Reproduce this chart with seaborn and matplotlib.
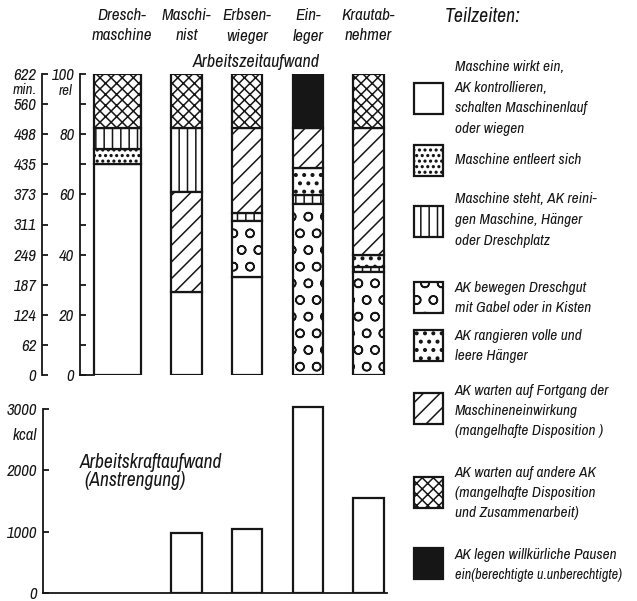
import numpy as np
import pandas as pd
import matplotlib
matplotlib.use("Agg")
import matplotlib.pyplot as plt
import matplotlib.hatch as mhatch
from matplotlib.patches import Rectangle
from matplotlib import font_manager as fm
import seaborn as sns

# ---------------- data ----------------
jobs = ["Dreschmaschine", "Maschinist", "Erbsenwieger", "Einleger", "Krautabnehmer"]
job_labels = [["Dresch-", "maschine"], ["Maschi-", "nist"], ["Erbsen-", "wieger"],
              ["Ein-", "leger"], ["Krautab-", "nehmer"]]

# Teilzeiten in % (rel) per job
t_wirkt    = [70.0, 27.5, 32.5, 0.0, 0.0]
t_entleert = [5.0, 0.0, 0.0, 0.0, 0.0]
t_steht    = [7.0, 21.3, 2.4, 3.1, 1.5]
t_bewegen  = [0.0, 0.0, 18.8, 56.7, 34.3]
t_rangier  = [0.0, 0.0, 0.0, 9.1, 4.1]
t_fortgang = [0.0, 33.2, 28.3, 13.1, 42.1]
t_andere   = [18.0, 18.0, 18.0, 0.0, 18.0]
t_pausen   = [0.0, 0.0, 0.0, 18.0, 0.0]

# stacking order (bottom -> top) per job
stack_order = [
    ["wirkt", "entleert", "steht", "andere"],
    ["wirkt", "fortgang", "steht", "andere"],
    ["wirkt", "bewegen", "steht", "fortgang", "andere"],
    ["bewegen", "steht", "rangier", "fortgang", "pausen"],
    ["bewegen", "steht", "rangier", "fortgang", "andere"],
]

# Arbeitskraftaufwand (kcal)
kcal = [0, 980, 1050, 3030, 1550]

rel_ticks = [0, 10, 20, 30, 40, 50, 60, 70, 80, 90, 100]
rel_labels = ["0", "", "20", "", "40", "", "60", "", "80", "", "100"]
min_labels = ["0", "62", "124", "187", "249", "311", "373", "435", "498", "560", "622"]
kcal_ticks = [0, 1000, 2000, 3000]
kcal_labels = ["0", "1000", "2000", "3000"]

legend_keys = ["wirkt", "entleert", "steht", "bewegen", "rangier", "fortgang", "andere", "pausen"]
legend_texts = [
    ["Maschine wirkt ein,", "AK kontrollieren,", "schalten Maschinenlauf", "oder wiegen"],
    ["Maschine entleert sich"],
    ["Maschine steht, AK reini-", "gen Maschine, Hänger", "oder Dreschplatz"],
    ["AK bewegen Dreschgut", "mit Gabel oder in Kisten"],
    ["AK rangieren volle und", "leere Hänger"],
    ["AK warten auf Fortgang der", "Maschineneinwirkung", "(mangelhafte Disposition )"],
    ["AK warten auf andere AK", "(mangelhafte Disposition", "und Zusammenarbeit)"],
    ["AK legen willkürliche Pausen", "ein(berechtigte u.unberechtigte)"],
]

# ---------------- style ----------------
ink = "#161616"
styles = {
    "wirkt":    dict(color="white", hatch=""),
    "entleert": dict(color="white", hatch="..."),
    "steht":    dict(color="white", hatch="||"),
    "bewegen":  dict(color="white", hatch="O"),
    "rangier":  dict(color="white", hatch=".."),
    "fortgang": dict(color="white", hatch="//"),
    "andere":   dict(color="white", hatch="xxx"),
    "pausen":   dict(color=ink, hatch=""),
}
mhatch.LargeCircles.size = 0.25
mhatch.SmallFilledCircles.size = 0.15

W, H = 637, 601
sns.set_theme(style="white")

names = {f.name for f in fm.fontManager.ttflist}
if "Archivo Narrow" in names:
    fam, stretch = "Archivo Narrow", "normal"
else:
    fam, stretch = "DejaVu Sans", "condensed"
plt.rcParams["font.family"] = [fam, "DejaVu Sans"]
plt.rcParams["font.style"] = "italic"
plt.rcParams["font.weight"] = "medium"
plt.rcParams["font.stretch"] = stretch
plt.rcParams["hatch.linewidth"] = 1.1
plt.rcParams["hatch.color"] = ink
plt.rcParams["text.color"] = ink

fig = plt.figure(figsize=(W / 100, H / 100), dpi=100)
fig.patch.set_facecolor("white")
renderer = fig.canvas.get_renderer()


def fit(text, target_px):
    t = fig.text(0, 0, text, fontsize=10)
    w = t.get_window_extent(renderer).width
    t.remove()
    return 10 * target_px / w


fs_tick = fit("622", 20) * 1.15
fs_head = fit("maschine", 53) * 1.15
fs_leg = fit("AK legen willkürliche Pausen", 160) * 1.02
fs_t1 = fit("Arbeitszeitaufwand", 118) * 1.08
fs_t2 = fit("Arbeitskraftaufwand", 132) * 1.08
fs_tz = fit("Teilzeiten:", 70) * 1.08


def fx(x):
    return x / W


def fy(y):
    return 1 - y / H


c0, sp = 126.0, 60.6


def dx(px):
    return (px - c0) / sp


extra = 0.28  # first bar (machine) is drawn wider

# ---------------- top chart ----------------
ax = fig.add_axes([fx(80), fy(375), 315 / W, 301 / H])
vals = {"wirkt": t_wirkt, "entleert": t_entleert, "steht": t_steht, "bewegen": t_bewegen,
        "rangier": t_rangier, "fortgang": t_fortgang, "andere": t_andere, "pausen": t_pausen}
bottoms = {key: [0.0] * len(jobs) for key in vals}
for j, order in enumerate(stack_order):
    acc = 0.0
    for key in order:
        bottoms[key][j] = acc
        acc += vals[key][j]

for key in legend_keys:
    df = pd.DataFrame({"job": jobs, "value": vals[key]})
    st = styles[key]
    sns.barplot(data=df, x="job", y="value", order=jobs, color=st["color"], saturation=1,
                edgecolor=ink, linewidth=1.6, hatch=st["hatch"], width=0.5,
                bottom=bottoms[key], errorbar=None, ax=ax)

for p in list(ax.patches):
    if p.get_height() == 0:
        p.remove()
for p in ax.patches:
    if abs(p.get_x() + 0.25) < 1e-6:
        p.set_x(p.get_x() - extra)
        p.set_width(p.get_width() + extra)

ax.set_xlim(dx(80), dx(395))
ax.set_ylim(0, 100)
ax.set_xlabel("")
ax.set_ylabel("")
ax.set_xticks([])
ax.set_facecolor("none")
for s in ["top", "right"]:
    ax.spines[s].set_visible(False)
for s in ["left", "bottom"]:
    ax.spines[s].set_color(ink)
    ax.spines[s].set_linewidth(1.3)
ax.spines["bottom"].set_bounds(dx(80), dx(94))
ax.set_yticks(rel_ticks)
ax.set_yticklabels(rel_labels)
ax.tick_params(axis="y", direction="in", length=4, width=1.3, color=ink, pad=4,
               labelsize=fs_tick, labelcolor=ink, left=True)

sec = ax.secondary_yaxis((42 - 80) / 315)
sec.set_yticks(rel_ticks)
sec.set_yticklabels(min_labels)
sec.spines["left"].set_color(ink)
sec.spines["left"].set_linewidth(1.3)
sec.tick_params(axis="y", direction="in", length=4, width=1.3, color=ink, pad=4,
                labelsize=fs_tick, labelcolor=ink)

fig.text(fx(37), fy(90), "min.", ha="right", va="center", fontsize=fs_tick * 0.9)
fig.text(fx(73), fy(91), "rel", ha="right", va="center", fontsize=fs_tick * 0.9)
fig.text(fx(256), fy(62), "Arbeitszeitaufwand", ha="center", va="center", fontsize=fs_t1)

for i, lines in enumerate(job_labels):
    xpx = c0 + sp * i - (4 if i == 0 else 0)
    for li, line in enumerate(lines):
        fig.text(fx(xpx), fy(16 + 20 * li), line, ha="center", va="center",
                 fontsize=fs_head)

# ---------------- bottom chart ----------------
ax2 = fig.add_axes([fx(43), fy(593), 352 / W, 184 * 3100 / 3000 / H])
sns.barplot(x=jobs, y=kcal, order=jobs, color="white", saturation=1, edgecolor=ink,
            linewidth=1.6, width=0.5, errorbar=None, ax=ax2)
for p in list(ax2.patches):
    if p.get_height() == 0:
        p.remove()
ax2.set_xlim(dx(43), dx(395))
ax2.set_ylim(0, 3100)
ax2.set_xticks([])
ax2.set_xlabel("")
ax2.set_ylabel("")
ax2.set_facecolor("none")
for s in ["top", "right"]:
    ax2.spines[s].set_visible(False)
for s in ["left", "bottom"]:
    ax2.spines[s].set_color(ink)
    ax2.spines[s].set_linewidth(1.3)
ax2.spines["left"].set_bounds(0, 3000)
ax2.spines["bottom"].set_bounds(dx(43), dx(387))
ax2.set_yticks(kcal_ticks)
ax2.set_yticklabels(kcal_labels)
ax2.tick_params(axis="y", direction="in", length=4, width=1.3, color=ink, pad=4,
                labelsize=fs_tick, labelcolor=ink, left=True)
fig.text(fx(37), fy(435), "kcal", ha="right", va="center", fontsize=fs_tick)
fig.text(fx(80), fy(462), "Arbeitskraftaufwand", ha="left", va="center", fontsize=fs_t2)
fig.text(fx(84), fy(481), "(Anstrengung)", ha="left", va="center", fontsize=fs_t2)

# ---------------- legend ----------------
fig.text(fx(445), fy(17), "Teilzeiten:", ha="left", va="center", fontsize=fs_tz)
box_top = [83, 145, 206, 282, 330, 393, 477, 548]
text_c = [98, 160, 220, 298, 346, 411, 493, 565]
for key, lines, bt, tc in zip(legend_keys, legend_texts, box_top, text_c):
    st = styles[key]
    r = Rectangle((fx(414), fy(bt + 31)), 29 / W, 31 / H, transform=fig.transFigure,
                  facecolor=st["color"], edgecolor=ink, linewidth=1.6, hatch=st["hatch"])
    fig.add_artist(r)
    n = len(lines)
    for li, line in enumerate(lines):
        yc = tc + (li - (n - 1) / 2) * 20.5
        fs = min(fs_leg, fit(line, 168))
        fig.text(fx(455), fy(yc), line, ha="left", va="center", fontsize=fs)

fig.savefig("out.png", dpi=100, facecolor="white")
